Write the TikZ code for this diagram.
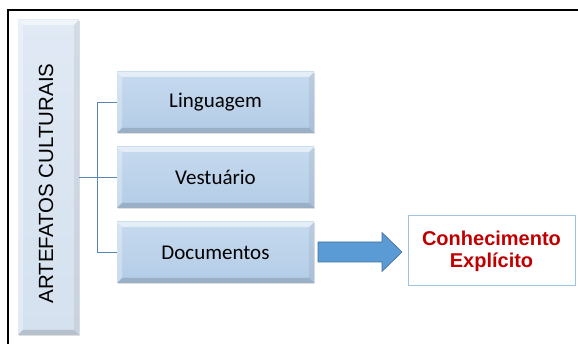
\documentclass[tikz,border=0pt]{standalone}
\usepackage{fontspec}
\setmainfont{Carlito}
\newfontfamily\arialf{Liberation Sans}
\usetikzlibrary{shadows}
\definecolor{boxtop}{HTML}{C6DAEF}
\definecolor{boxbot}{HTML}{B3CCE6}
\definecolor{vtop}{HTML}{E0E9F4}
\definecolor{vbot}{HTML}{D5E1EF}
\definecolor{linkc}{HTML}{5A85B0}
\definecolor{arrfill}{HTML}{5B9BD5}
\definecolor{arrdraw}{HTML}{41719C}
\definecolor{ckdraw}{HTML}{9DC3E6}
\definecolor{ckred}{HTML}{C00000}
\tikzset{
  bevel/.style={path picture={
    \fill[white,opacity=0.55] (path picture bounding box.north west) -- (path picture bounding box.north east)
      -- ([xshift=-#1,yshift=-#1]path picture bounding box.north east) -- ([xshift=#1,yshift=-#1]path picture bounding box.north west) -- cycle;
    \fill[white,opacity=0.3] (path picture bounding box.north west) -- ([xshift=#1,yshift=-#1]path picture bounding box.north west)
      -- ([xshift=#1,yshift=#1]path picture bounding box.south west) -- (path picture bounding box.south west) -- cycle;
    \fill[black,opacity=0.14] (path picture bounding box.south west) -- (path picture bounding box.south east)
      -- ([xshift=-#1,yshift=#1]path picture bounding box.south east) -- ([xshift=#1,yshift=#1]path picture bounding box.south west) -- cycle;
    \fill[black,opacity=0.06] (path picture bounding box.north east) -- (path picture bounding box.south east)
      -- ([xshift=-#1,yshift=#1]path picture bounding box.south east) -- ([xshift=-#1,yshift=-#1]path picture bounding box.north east) -- cycle;
  }},
  itembox/.style={minimum width=197pt, minimum height=61pt, inner sep=0pt,
    top color=boxtop, bottom color=boxbot, bevel=5pt,
    drop shadow={shadow xshift=1pt, shadow yshift=-1.5pt, opacity=0.25},
    font=\fontsize{21}{24}\selectfont},
  vertbox/.style={minimum width=61pt, minimum height=315pt, inner sep=0pt,
    top color=vtop, bottom color=vbot, bevel=5pt,
    drop shadow={shadow xshift=1pt, shadow yshift=-1.5pt, opacity=0.25}},
  link/.style={draw=linkc, line width=0.9pt},
  blockarrow/.style={fill=arrfill, draw=arrdraw, line width=0.6pt, line join=miter},
  resultbox/.style={draw=ckdraw, line width=1pt, fill=white, minimum width=167pt, minimum height=70pt,
    inner sep=0pt, align=center, text=ckred, font=\arialf\bfseries\fontsize{20}{22}\selectfont},
}
\begin{document}
\begin{tikzpicture}[x=1pt,y=-1pt]
\useasboundingbox (0,0) rectangle (578,344);
\fill[white] (0,0) rectangle (578,344);
\coordinate (fb) at (8,344);
\coordinate (fc) at (8,10);
\coordinate (fr) at (578,10);
\draw[line width=1.3pt] (fb) -- (fc) -- (fr);
\node[vertbox] (v) at (48.5,177.5) {};
\node[rotate=90, font=\arialf\fontsize{20.5}{24}\selectfont] (vt) at (46,183.5) {ARTEFATOS CULTURAIS};
\node[itembox] (l1) at (215.5,102.5) {Linguagem};
\node[itembox] (l2) at (215.5,177.5) {Vestuário};
\node[itembox] (l3) at (215.5,252.5) {Documentos};
\draw[link] (v.east) -- (l2.west);
\draw[link] (l1.west) -- ++(-19,0) |- (l3.west);
\coordinate (arw) at (318,252);
\draw[blockarrow] (arw) ++(0,-10) -- ++(64,0) -- ++(0,-9.5) -- ++(20,19.5) -- ++(-20,19.5) -- ++(0,-9.5) -- ++(-64,0) -- cycle;
\node[resultbox] (ck) at (491.5,251) {Conhecimento\\Explícito};
\end{tikzpicture}
\end{document}
